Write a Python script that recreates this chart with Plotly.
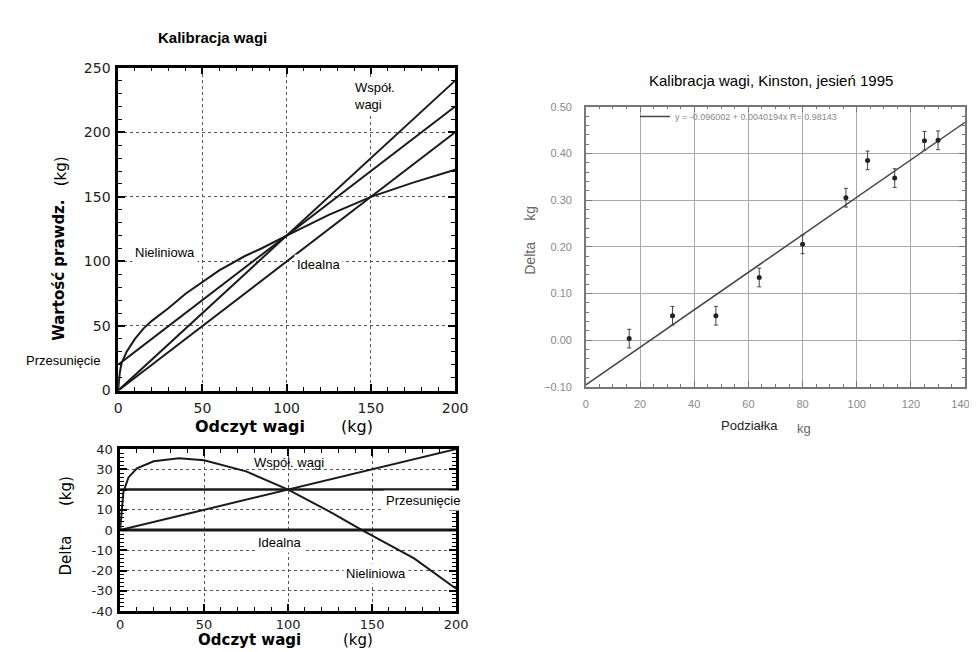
import plotly.graph_objects as go

W, H = 977, 652

# ---------------- data: top-left panel (true value vs reading) ----------------
ideal_x = [0, 200]
ideal_y = [0, 200]
offset_x = [0, 200]
offset_y = [20, 220]
scale_x = [0, 200]
scale_y = [0, 240]
nonlin_x = [0, 1, 2, 5, 10, 15, 20, 30, 40, 50, 60, 75, 85, 100, 125, 150, 175, 200]
nonlin_y = [0, 14, 21, 30, 40, 48, 54, 64, 75, 84, 93, 104, 110, 120, 136, 150, 161, 171]

# ---------------- data: bottom-left panel (delta vs reading) ----------------
d_ideal_x = [0, 200]
d_ideal_y = [0, 0]
d_offset_x = [0, 200]
d_offset_y = [20, 20]
d_scale_x = [0, 200]
d_scale_y = [0, 40]
d_nonlin_x = [0, 1, 2, 5, 10, 20, 35, 50, 75, 100, 125, 144, 175, 200]
d_nonlin_y = [0, 12, 19, 26, 30.5, 34, 35.5, 34.5, 29, 20, 9, 0, -14, -29]

# ---------------- data: right panel (Kinston calibration) ----------------
cal_x = [16, 32, 48, 64, 80, 96, 104, 114, 125, 130]
cal_y = [0.003, 0.052, 0.052, 0.134, 0.205, 0.305, 0.385, 0.347, 0.427, 0.428]
cal_err = [0.02, 0.02, 0.02, 0.02, 0.02, 0.02, 0.02, 0.02, 0.02, 0.02]
fit_x = [0, 140]
fit_y = [-0.096002, 0.466714]
fit_label = "y = -0.096002 + 0.0040194x R= 0.98143"

left_ticks_top_y = [0, 50, 100, 150, 200, 250]
left_ticks_x = [0, 50, 100, 150, 200]
delta_ticks = [-40, -30, -20, -10, 0, 10, 20, 30, 40]
delta_ticktext = ["-40", "-30", "-20", "-10", "0", "10", "20", "30", "40"]
right_ticks_x = [0, 20, 40, 60, 80, 100, 120, 140]
right_ticktext_x = ["0", "20", "40", "60", "80", "100", "120", "140\u00a0\u00a0\u00a0"]


def px_x(p):
    return min(1.0, max(0.0, p / W))


def px_y(p):
    return min(1.0, max(0.0, 1 - p / H))


LINE = "#1a1a1a"
fig = go.Figure()

# top-left traces
for xs, ys in [(ideal_x, ideal_y), (offset_x, offset_y), (scale_x, scale_y), (nonlin_x, nonlin_y)]:
    fig.add_trace(go.Scatter(x=xs, y=ys, mode="lines", line=dict(color=LINE, width=2),
                             xaxis="x", yaxis="y", showlegend=False, hoverinfo="skip"))

# bottom-left traces
fig.add_trace(go.Scatter(x=d_ideal_x, y=d_ideal_y, mode="lines", line=dict(color=LINE, width=3),
                         xaxis="x2", yaxis="y2", showlegend=False))
fig.add_trace(go.Scatter(x=d_offset_x, y=d_offset_y, mode="lines", line=dict(color=LINE, width=2.5),
                         xaxis="x2", yaxis="y2", showlegend=False))
fig.add_trace(go.Scatter(x=d_scale_x, y=d_scale_y, mode="lines", line=dict(color=LINE, width=2),
                         xaxis="x2", yaxis="y2", showlegend=False))
fig.add_trace(go.Scatter(x=d_nonlin_x, y=d_nonlin_y, mode="lines", line=dict(color=LINE, width=2),
                         xaxis="x2", yaxis="y2", showlegend=False))

# right traces
fig.add_trace(go.Scatter(x=fit_x, y=fit_y, mode="lines", line=dict(color="#444", width=1.5),
                         xaxis="x3", yaxis="y3", name=fit_label, showlegend=True))
fig.add_trace(go.Scatter(x=cal_x, y=cal_y, mode="markers",
                         marker=dict(color="#222", size=5),
                         error_y=dict(type="data", array=cal_err, color="#444", thickness=1, width=2),
                         xaxis="x3", yaxis="y3", showlegend=False))

tickfont_left = dict(family="DejaVu Sans", size=14, color="#222")
common_left = dict(showline=True, linecolor="black", linewidth=2.5, mirror="allticks",
                   ticks="inside", ticklen=7, tickwidth=1.5, tickcolor="black",
                   showgrid=True, gridcolor="#555", griddash="dot", gridwidth=1.2,
                   zeroline=False)

common_right = dict(showline=True, linecolor="#777", linewidth=1.5, mirror="allticks",
                    ticks="inside", ticklen=6, tickwidth=1, tickcolor="#777",
                    showgrid=True, gridcolor="#aaa", gridwidth=1.2, zeroline=False,
                    tickfont=dict(family="Liberation Sans", size=11, color="#888"))

minor_left = dict(ticks="inside", dtick=10, ticklen=4, tickcolor="black", tickwidth=1.2, showgrid=False)

fig.update_layout(
    width=W, height=H,
    margin=dict(l=0, r=0, t=0, b=0),
    paper_bgcolor="white", plot_bgcolor="white",
    font=dict(family="Liberation Sans", color="black"),
    xaxis=dict(domain=[px_x(108), px_x(451)], range=[0, 200], anchor="y",
               tickvals=left_ticks_x, ticklabelstandoff=3, tickfont=tickfont_left,
               minor=minor_left, **common_left),
    yaxis=dict(domain=[px_y(384), px_y(53)], range=[0, 250], anchor="x",
               tickvals=left_ticks_top_y, ticklabelstandoff=2, tickfont=tickfont_left,
               minor=minor_left, **common_left),
    xaxis2=dict(domain=[px_x(110), px_x(452)], range=[0, 200], anchor="y2",
                tickvals=left_ticks_x, ticklabelstandoff=0,
                tickfont=dict(family="DejaVu Sans", size=13, color="#222"),
                minor=minor_left, **common_left),
    yaxis2=dict(domain=[px_y(610), px_y(444)], range=[-40, 40], anchor="x2",
                tickvals=delta_ticks, ticktext=delta_ticktext, ticklabelstandoff=2,
                tickfont=dict(family="DejaVu Sans", size=13, color="#222"),
                minor=dict(ticks="inside", dtick=2, ticklen=4, tickcolor="black", tickwidth=1.2, showgrid=False),
                **common_left),
    xaxis3=dict(domain=[px_x(584), px_x(970)], range=[0, 140], anchor="y3",
                tickvals=right_ticks_x, ticktext=right_ticktext_x, ticklabelstandoff=6,
                minor=dict(ticks="inside", dtick=5, ticklen=3, tickcolor="#777", showgrid=False),
                **common_right),
    yaxis3=dict(domain=[px_y(380), px_y(93)], range=[-0.1, 0.5], anchor="x3",
                dtick=0.1, tickformat=".2f", ticklabelstandoff=10,
                minor=dict(ticks="inside", dtick=0.02, ticklen=3, tickcolor="#777", showgrid=False),
                **common_right),
    legend=dict(x=px_x(634), y=px_y(103), xanchor="left", yanchor="middle",
                bgcolor="rgba(0,0,0,0)", borderwidth=0,
                font=dict(family="Liberation Sans", size=9, color="#888"),
                itemwidth=30, tracegroupgap=0),
    showlegend=True,
)


def ann(text, x, y, size=13, bg=None, angle=0, color="black", family="Liberation Sans",
        xanchor="center", align="center"):
    d = dict(text=text, x=x / W, y=1 - y / H, xref="paper", yref="paper",
             showarrow=False, font=dict(family=family, size=size, color=color), textangle=angle,
             xanchor=xanchor, yanchor="middle", align=align)
    if bg:
        d.update(bgcolor=bg, borderpad=2)
    fig.add_annotation(**d)


# titles
ann("<b>Kalibracja wagi</b>", 204, 22, size=15)
ann("Kalibracja wagi, Kinston, jesień 1995", 772, 66, size=15)

# top-left axis titles
ann("<b>Odczyt wagi</b>", 242, 421, size=16, family="DejaVu Sans")
ann("(kg)", 351, 421, size=16, family="DejaVu Sans")
ann("<b>Wartość prawdz.</b>", 47, 261, size=15, angle=-90, family="DejaVu Sans")
ann("(kg)", 50, 159, size=15, angle=-90, family="DejaVu Sans")

# top-left labels
ann("Nieliniowa", 156, 242, bg="white")
ann("Idealna", 312, 255, bg="white")
ann("Przesunięcie", 52, 353)
ann("Współ.<br>wagi", 345, 82, bg="white", xanchor="left", align="left")

# bottom-left axis titles
ann("<b>Odczyt wagi</b>", 242, 640, size=15, family="DejaVu Sans")
ann("(kg)", 352, 640, size=15, family="DejaVu Sans")
ann("Delta", 55, 553, size=15, angle=-90, family="DejaVu Sans")
ann("(kg)", 55, 487, size=15, angle=-90, family="DejaVu Sans")

# bottom-left labels
ann("Współ. wagi", 282, 458)
ann("Przesunięcie", 418, 497, bg="white")
ann("Idealna", 272, 540, bg="white")
ann("Nieliniowa", 370, 572, bg="white")

# right axis titles
ann("Podziałka", 751, 420, size=13, color="#222")
ann("kg", 806, 423, size=13, color="#666")
ann("Delta", 527, 248, size=14, angle=-90, color="#666")
ann("kg", 527, 202, size=14, angle=-90, color="#666")

fig.write_html("out.html")
